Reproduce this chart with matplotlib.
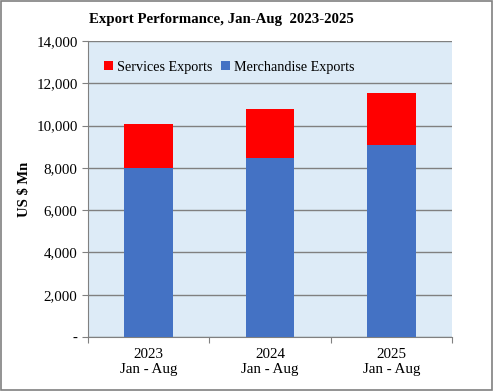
import numpy as np
import matplotlib.pyplot as plt
from matplotlib.patches import Rectangle
from matplotlib.ticker import FuncFormatter

plt.rcParams['font.family'] = ['Liberation Serif', 'DejaVu Serif']
plt.rcParams['font.size'] = 10

years = ['2023\nJan - Aug', '2024\nJan - Aug', '2025\nJan - Aug']
merchandise = [8000, 8470, 9100]
services = [2100, 2320, 2450]

fig = plt.figure(figsize=(4.93, 3.91), dpi=100)
ax = fig.add_axes([0.1785, 0.138, 0.7385, 0.757])
ax.set_facecolor('#DDEBF7')

x = np.arange(len(years))
ax.bar(x, merchandise, width=0.4, color='#4472C4', label='Merchandise Exports', zorder=3)
ax.bar(x, services, width=0.4, bottom=merchandise, color='#FF0000', label='Services Exports', zorder=3)

ax.set_xlim(-0.5, 2.5)
ax.set_ylim(0, 14000)
ax.set_yticks(range(0, 14001, 2000))
ax.yaxis.set_major_formatter(FuncFormatter(lambda v, p: '-' if v == 0 else f'{int(v):,}'))
ax.set_xticks([-0.5, 0.5, 1.5, 2.5], minor=False)
ax.set_xticklabels([])
ax.set_xticks(x, minor=True)
ax.set_xticklabels(years, minor=True)
ax.tick_params(axis='x', which='minor', length=0, pad=8, labelsize=10.8)
ax.tick_params(axis='x', which='major', length=4, color='#808080')
ax.tick_params(axis='y', length=4, color='#808080', labelsize=10.8)
ax.grid(axis='y', color='#808080', linewidth=1, zorder=1)
for s in ['top', 'right']:
    ax.spines[s].set_visible(False)
ax.spines['left'].set_color('#808080')
ax.spines['bottom'].set_color('#808080')
ax.set_ylabel('US $ Mn', fontweight='bold', fontsize=10.5, labelpad=4)

h, l = ax.get_legend_handles_labels()
ax.legend(h[::-1], l[::-1], loc='center left', bbox_to_anchor=(0.01, 0.912), ncol=2,
          frameon=False, fontsize=10.2, handlelength=0.6, handleheight=0.6,
          handletextpad=0.3, columnspacing=0.6)

fig.text(89 / 493, 1 - 20 / 391, 'Export Performance, Jan-Aug  2023-2025',
         fontweight='bold', fontsize=10.7, ha='left', va='center')

fig.patches.append(Rectangle((0.002, 0.002), 0.996, 0.996, transform=fig.transFigure,
                             fill=False, edgecolor='#808080', linewidth=1.2))

fig.savefig('out.png', dpi=100)
